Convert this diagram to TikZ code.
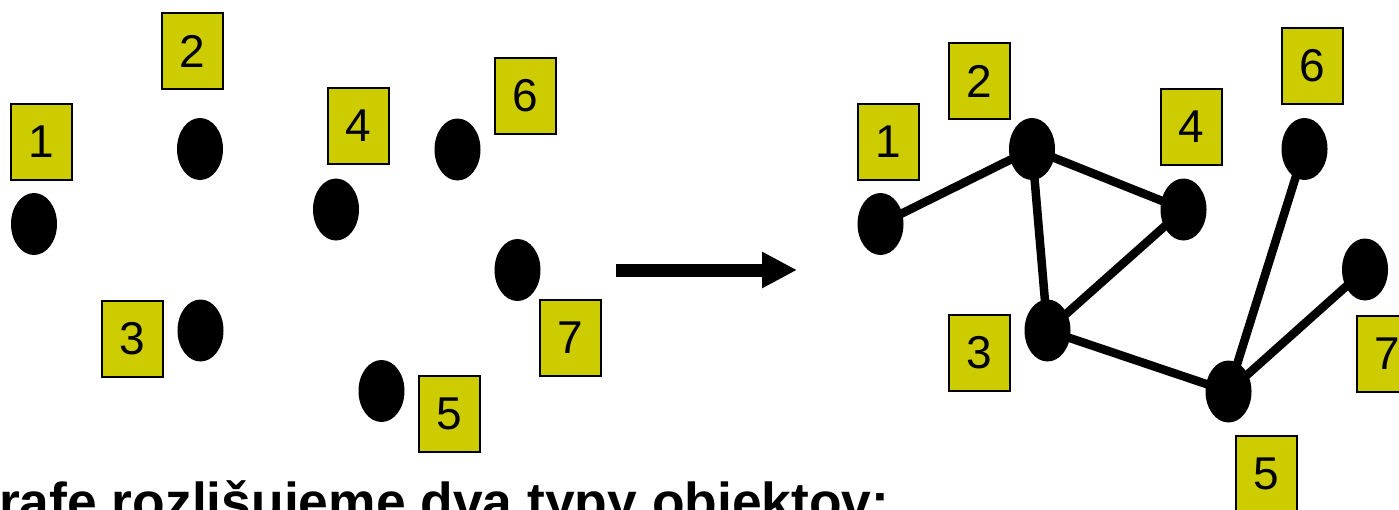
\documentclass[tikz,border=0pt]{standalone}
\usepackage{fontspec}
\setmainfont{Liberation Sans}
\usetikzlibrary{shapes.geometric,arrows.meta,backgrounds}
\definecolor{labelfill}{RGB}{204,204,0}
\tikzset{
  vertex/.style={ellipse, fill=black, minimum width=46pt, minimum height=62pt, inner sep=0pt},
  tag/.style={rectangle, draw=black, line width=2pt, fill=labelfill,
              minimum width=61pt, minimum height=76pt, inner sep=0pt,
              font=\fontsize{46}{50}\selectfont},
  link/.style={line width=8.5pt},
  bigarrow/.style={line width=13pt, -{Triangle[length=35pt,width=34pt]}}
}
\begin{document}
\begin{tikzpicture}[x=1pt,y=-1pt]
\useasboundingbox (0,0) rectangle (1399,509);
\clip (0,0) rectangle (1399,509);

% scattered vertices (left)
\node[vertex] (a1) at (34,224) {};
\node[vertex] (a2) at (200,149) {};
\node[vertex] (a3) at (200.5,330.5) {};
\node[vertex] (a4) at (336,209.5) {};
\node[vertex] (a5) at (381.5,391) {};
\node[vertex] (a6) at (457.5,149.5) {};
\node[vertex] (a7) at (517.5,270) {};
\node[tag] (ta1) at (41.5,141.5) {1};
\node[tag] (ta2) at (192.5,51) {2};
\node[tag] (ta3) at (132,338.5) {3};
\node[tag] (ta4) at (358.5,126) {4};
\node[tag] (ta5) at (449,413.5) {5};
\node[tag] (ta6) at (525,96) {6};
\node[tag] (ta7) at (570.5,338) {7};

% transition arrow
\coordinate (arrS) at (616,270);
\coordinate (arrE) at (797,270);
\draw[bigarrow] (arrS) -- (arrE);

% connected graph (right)
\node[vertex] (b1) at (880.5,224) {};
\node[vertex] (b2) at (1032,149) {};
\node[vertex] (b3) at (1047.5,330.5) {};
\node[vertex] (b4) at (1183.5,209.5) {};
\node[vertex] (b5) at (1228.5,391.5) {};
\node[vertex] (b6) at (1304.5,149) {};
\node[vertex] (b7) at (1365,269.5) {};
\node[tag] (tb1) at (888.5,141.5) {1};
\node[tag] (tb2) at (979,81) {2};
\node[tag] (tb3) at (979,353) {3};
\node[tag] (tb4) at (1191,126.5) {4};
\node[tag] (tb5) at (1266.5,474) {5};
\node[tag] (tb6) at (1312,65.5) {6};
\node[tag] (tb7) at (1387.5,353.5) {7};

\begin{pgfonlayer}{background}
  \draw[link] (b1.center) -- (b2.center);
  \draw[link] (b2.center) -- (b4.center);
  \draw[link] (b2.center) -- (b3.center);
  \draw[link] (b4.center) -- (b3.center);
  \draw[link] (b3.center) -- (b5.center);
  \draw[link] (b6.center) -- (b5.center);
  \draw[link] (b7.center) -- (b5.center);
\end{pgfonlayer}

% heading line below
\node[anchor=base west, inner sep=0pt, font=\fontsize{53.4}{60}\selectfont\bfseries] (head) at (-1,520) {rafe rozlišujeme dva typy objektov:};
\end{tikzpicture}
\end{document}
